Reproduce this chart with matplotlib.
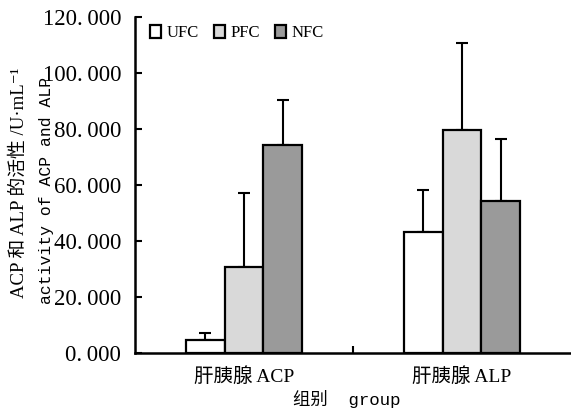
import numpy as np
import matplotlib
matplotlib.use("Agg")
import matplotlib.pyplot as plt
from matplotlib.patches import Patch

# data
groups = ['肝胰腺 ACP', '肝胰腺 ALP']
series = ['UFC', 'PFC', 'NFC']
ufc = [4.8, 43.1]
pfc = [30.8, 79.8]
nfc = [74.4, 54.2]
ufc_err = [2.3, 15.2]
pfc_err = [26.3, 31.0]
nfc_err = [15.8, 22.4]
yticks = [0, 20, 40, 60, 80, 100, 120]

colors = ['#ffffff', '#d9d9d9', '#9a9a9a']
serif = ['Liberation Serif', 'Noto Sans CJK SC', 'DejaVu Serif']
mono = ['Liberation Mono', 'Noto Sans CJK SC', 'DejaVu Sans Mono']

fig = plt.figure(figsize=(5.71, 4.13), dpi=100)
ax = fig.add_axes([135 / 571, 60 / 413, 436 / 571, 336 / 413])

x = np.array([0.5, 1.5])
w = 0.177
vals = [ufc, pfc, nfc]
errs = [ufc_err, pfc_err, nfc_err]
for i, (v, e) in enumerate(zip(vals, errs)):
    pos = x + (i - 1) * w
    ax.bar(pos, v, width=w, color=colors[i], edgecolor='black', linewidth=1.6,
           zorder=2)
    ax.errorbar(pos, v, yerr=[np.zeros(len(e)), e], fmt='none', ecolor='black',
                elinewidth=1.5, capsize=4, capthick=1.5, zorder=1)

ax.set_xlim(0, 2)
ax.set_ylim(0, 120)
ax.set_yticks(yticks)
# SimSun-style wide period in the tick labels
ax.set_yticklabels([f'{t:.3f}'.replace('.', '.\u2009') for t in yticks],
                   family=serif, fontsize=16.5)
ax.set_xticks([1])
ax.set_xticklabels([])
ax.tick_params(axis='y', direction='in', length=5, width=1.5, pad=10)
ax.tick_params(axis='x', direction='in', length=5, width=1.5)

for s in ['top', 'right']:
    ax.spines[s].set_visible(False)
for s in ['left', 'bottom']:
    ax.spines[s].set_linewidth(1.8)

for xc, g in zip(x, groups):
    ax.text(xc, -8.5, g, ha='center', va='center', family=serif, fontsize=14)
ax.text(0.97, -16.6, '组别  group', ha='center', va='center', family=mono,
        fontsize=12.5)

fig.text(19 / 571, 1 - 183 / 413, 'ACP 和 ALP 的活性 /U·mL⁻¹', rotation=90,
         ha='center', va='center', family=serif, fontsize=13.5)
fig.text(47 / 571, 1 - 190 / 413, 'activity of ACP and ALP', rotation=90,
         ha='center', va='center', family=mono, fontsize=11.8)

handles = [Patch(facecolor=c, edgecolor='black', linewidth=1.6) for c in colors]
ax.legend(handles, series, loc='upper left', bbox_to_anchor=(0.0, 1.02),
          ncol=3, frameon=False, handlelength=0.65, handleheight=0.8,
          handletextpad=0.35, columnspacing=0.9, prop={'family': serif, 'size': 12})

fig.savefig('out.png', dpi=100)
